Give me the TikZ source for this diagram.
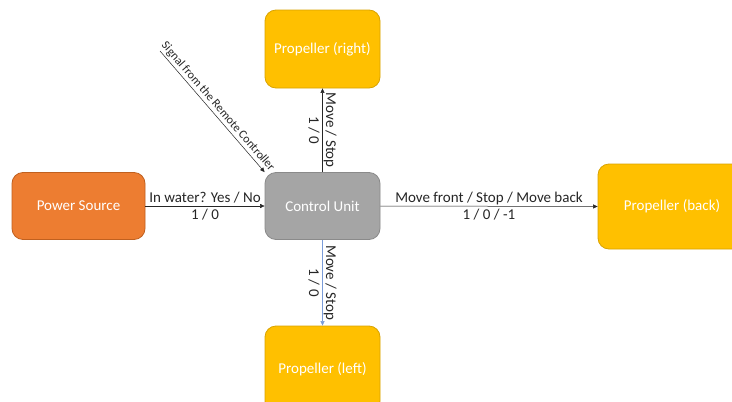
\documentclass[tikz,border=0pt]{standalone}
\usepackage{fontspec}
\setmainfont{Carlito}
\usetikzlibrary{arrows.meta}
\definecolor{orF}{HTML}{ED7D31}
\definecolor{orD}{HTML}{C0601F}
\definecolor{yeF}{HTML}{FFC000}
\definecolor{yeD}{HTML}{D9A300}
\definecolor{grF}{HTML}{A5A5A5}
\definecolor{grD}{HTML}{8A8A8A}
\definecolor{txt}{HTML}{262626}
\definecolor{blueln}{HTML}{7A9CD9}
\begin{document}
\begin{tikzpicture}[x=1pt,y=-1pt,
  box/.style={draw, rounded corners=11pt, line width=0.8pt, text=white,
    font=\fontsize{15}{18}\selectfont, inner sep=0pt},
  conn/.style={draw=black!85, line width=0.5pt, -{Triangle[length=4.5pt,width=4pt]}},
  lab/.style={text=txt, font=\fontsize{15}{17}\selectfont, align=center, inner sep=1pt},
  slab/.style={text=txt, font=\fontsize{12}{14}\selectfont, inner sep=1pt}
]
\useasboundingbox (0,0) rectangle (732,402);
\clip (0,0) rectangle (732,402);
\fill[white] (0,0) rectangle (732,402);

\node[box, fill=orF, draw=orD, minimum width=133pt, minimum height=67pt] (ps) at (78.5,206) {Power Source};
\node[box, fill=grF, draw=grD, minimum width=115pt, minimum height=67pt] (cu) at (322.5,206) {Control Unit};
\node[box, fill=yeF, draw=yeD, minimum width=115pt, minimum height=78pt] (pr) at (322.5,49) {Propeller (right)};
\node[box, fill=yeF, draw=yeD, minimum width=115pt, minimum height=86pt] (pl) at (322.5,369) {Propeller (left)};
\node[box, fill=yeF, draw=yeD, minimum width=148pt, minimum height=85pt] (pb) at (672,206.5) {Propeller (back)};

\coordinate (sig) at (160,51);

\draw[conn] (ps.east) -- node[lab, midway] {In water? Yes / No\\1 / 0} (cu.west);
\draw[conn] (cu.east) -- node[lab, midway] {Move front / Stop / Move back\\1 / 0 / -1} (pb.west);
\draw[conn] (cu.north) -- node[lab, midway, rotate=-90] {Move / Stop\\1 / 0} (pr.south);
\draw[conn, draw=blueln, -{Triangle[length=4.5pt,width=4pt,fill=blueln]}] (cu.south) -- node[lab, midway, rotate=-90] {Move / Stop\\1 / 0} (pl.north);
\draw[conn] (sig) -- node[slab, midway, sloped, above=1pt] {Signal from the Remote Controller} (cu.north west);
\end{tikzpicture}
\end{document}
